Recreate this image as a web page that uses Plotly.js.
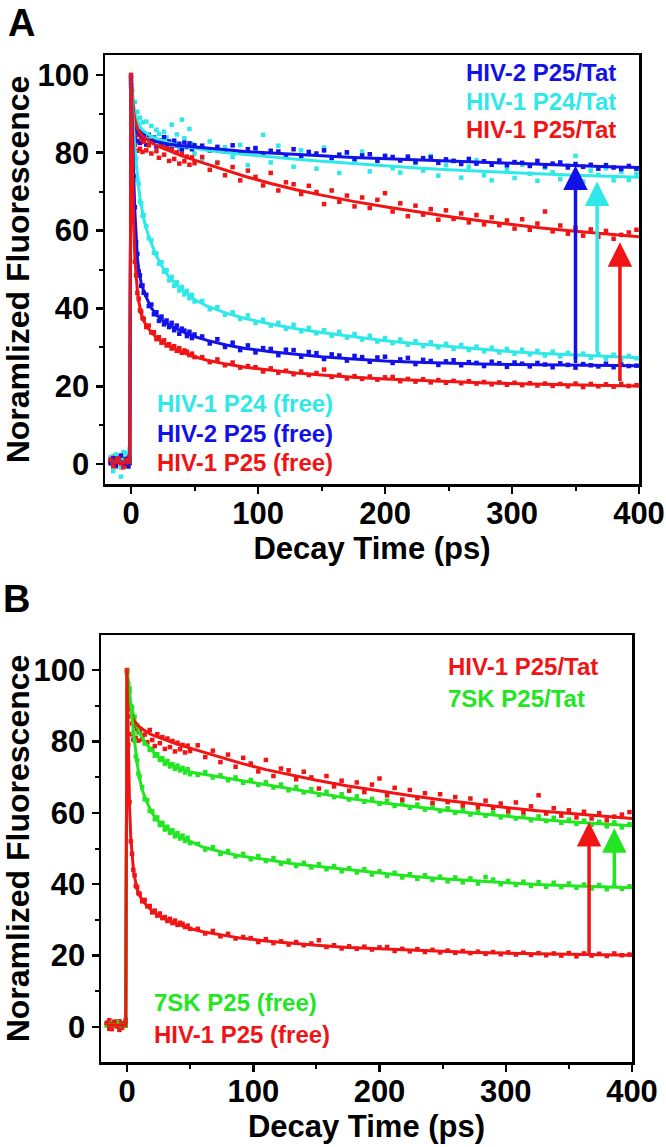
<!DOCTYPE html>
<html>
<head>
<meta charset="utf-8">
<script src="https://cdn.plot.ly/plotly-3.0.1.min.js"></script>
<style>html,body{margin:0;padding:0;background:#fff;}#chart{width:666px;height:1147px;}</style>
</head>
<body>
<div id="chart"></div>
<script>
// ---------- DATA ----------
const time = [-16,-14,-12,-10,-8,-6,-4,-2,-1,
  0,1,2,3,4,5,6,7,8,9,10,
  12,14,16,18,20,22,24,26,28,30,32,34,36,38,40,42,44,46,48,50,
  56,62,68,74,80,86,92,98,104,110,116,122,128,134,140,146,152,158,164,170,176,182,188,194,200,
  206,212,218,224,230,236,242,248,254,260,266,272,278,284,290,296,302,308,314,320,326,332,338,344,350,
  356,362,368,374,380,386,392,398];

const fitTime = [-16,-1,0,1,2,3,4,5,6,7,8,10,12,15,20,25,30,40,50,60,75,90,110,130,150,175,200,225,250,275,300,325,350,375,400];

// Panel A measured points
const hiv2P25Tat = [0.2,1.1,-0.4,1.6,0.7,-0.2,0.9,1.4,0.3,
  99,90,87,84,86.5,83,85.5,82.5,85,83,84.5,
  82.1,84.6,82.8,83.9,81.6,83.2,82.0,84.0,81.4,82.9,81.0,83.1,81.9,82.3,80.8,82.6,81.5,82.4,80.9,81.9,
  81.8,80.6,81.5,80.3,81.9,80.0,80.9,81.2,79.6,80.5,80.3,79.3,80.9,79.1,80.2,79.8,80.6,78.7,79.5,80.1,
  78.4,79.3,79.6,77.9,79.2,78.9,78.0,79.0,77.6,78.6,78.8,77.4,78.3,77.9,77.1,78.4,77.2,77.8,76.9,78.0,
  76.8,77.6,77.4,76.6,77.9,76.5,77.2,77.5,76.2,77.1,76.4,76.9,75.9,76.8,76.2,75.8,76.6,75.9];
const hiv1P24Tat = [1.5,-1.8,2.2,0.6,-0.9,3.1,1.0,2.4,4.0,
  97,96,91,93,88,90.5,86,89,85.5,87.8,84.2,
  88.0,83.6,86.9,82.8,85.9,84.8,82.1,85.4,83.9,81.3,87.2,82.6,84.7,80.9,88.5,83.7,81.4,86.1,82.3,79.8,
  78.3,82.9,77.6,81.4,78.9,82.0,76.8,80.7,84.6,77.5,81.8,78.9,76.4,80.6,79.7,75.9,81.3,78.1,74.8,79.9,
  77.6,80.3,75.2,78.4,79.1,76.0,74.9,78.7,77.3,75.4,79.2,74.1,76.8,77.9,73.6,76.4,78.1,74.2,72.9,77.6,
  75.8,73.5,76.9,74.6,72.8,76.1,75.0,73.2,76.7,79.2,72.6,75.4,74.3,76.0,72.9,75.1,73.0,74.6];
const hiv1P25Tat = [0.8,1.9,-0.6,1.2,0.3,1.6,-0.2,0.9,1.5,
  100,91,87,82,85,80.5,84.5,81,83.5,80.2,82.8,
  80.6,81.9,79.8,83.2,80.4,78.7,82.0,79.5,81.2,77.9,80.8,78.4,80.1,77.2,79.6,77.8,79.0,76.9,78.8,77.3,
  78.9,75.6,77.4,74.2,76.3,72.9,75.4,73.8,71.6,74.8,70.3,72.4,71.9,69.4,71.5,69.9,66.8,70.3,67.4,69.0,
  66.2,68.5,65.8,67.9,69.6,64.9,67.0,63.7,66.4,64.1,65.5,62.8,65.2,63.0,64.4,62.1,64.0,61.6,63.4,61.4,
  62.6,60.5,62.9,60.2,61.8,64.9,59.8,61.3,59.2,60.7,58.7,60.3,58.4,59.9,57.9,58.9,59.5,60.2];
const hiv1P24Free = [1.8,-1.0,2.5,0.4,-3.2,1.5,2.8,0.9,3.5,
  97,93,87,80,78.5,73,72,67.5,67,63.8,64.0,
  61.2,58.0,57.5,54.3,54.1,51.5,51.9,49.4,49.8,47.2,48.1,45.8,46.7,44.6,45.5,43.6,44.5,42.6,43.5,41.8,
  41.9,39.8,40.3,38.4,39.0,37.3,38.2,36.3,37.1,35.6,36.3,34.8,35.8,34.1,35.0,33.6,34.4,33.0,34.0,32.5,
  33.4,32.0,33.0,31.5,32.4,31.1,32.0,30.7,31.6,30.3,31.3,30.0,30.9,29.6,30.6,29.3,30.2,29.0,29.9,28.7,
  29.6,28.4,29.4,28.2,29.1,27.9,28.9,27.7,28.6,27.5,28.4,27.3,28.3,27.1,28.1,26.9,27.8,27.2];
const hiv2P25Free = [0.5,1.5,-0.3,0.9,2.2,0.1,1.3,-0.6,1.8,
  98,86,74,66,57,54,49.5,48.5,45.8,45.9,44.0,
  43.5,40.6,41.0,38.5,39.0,36.8,37.9,35.9,36.9,35.2,36.3,34.4,35.6,33.5,34.8,34.3,32.9,34.0,32.4,33.3,
  32.8,31.0,32.1,30.1,31.2,29.3,30.5,28.7,29.8,29.6,28.0,29.4,29.3,27.6,28.8,28.5,27.0,28.2,27.9,26.6,
  27.8,27.5,26.3,27.4,27.6,26.0,26.9,27.3,25.7,26.8,26.5,25.5,26.4,26.7,25.4,26.2,26.0,25.2,26.3,25.9,
  25.0,26.1,25.8,25.1,26.0,25.6,24.9,25.9,25.5,24.8,25.7,25.4,25.1,25.8,24.9,25.6,25.2,25.3];
const hiv1P25Free = [1.2,-0.5,0.8,1.5,0.2,-0.8,1.0,0.5,2.0,
  99.5,79,63,52,48.5,44,42.5,39.5,39.2,37.5,37.3,
  35.2,35.6,33.8,33.9,32.1,32.6,31.2,31.8,30.5,30.8,29.7,30.3,29.1,29.8,28.6,29.2,28.9,28.0,28.4,27.5,
  27.5,26.2,26.9,25.4,26.1,24.8,25.2,24.9,23.8,24.6,23.5,24.0,23.1,23.8,22.9,23.4,24.3,22.4,22.9,22.0,
  22.6,21.9,22.5,21.7,22.3,22.4,21.3,21.9,21.2,21.8,21.0,21.6,20.9,21.4,20.8,21.3,20.7,21.1,20.5,21.0,
  20.4,20.9,20.3,20.8,20.2,20.7,20.1,20.6,20.0,20.7,19.8,20.6,20.0,20.5,19.9,20.6,20.1,20.3];

// Panel B measured points (HIV-1 P25 series shared with panel A)
const sk7P25Tat = [0.4,1.2,-0.3,0.8,1.5,0.1,0.9,0.6,1.3,
  99,95,93.8,89.9,89.6,86.8,86.9,84.3,84.6,82.5,82.9,
  81.6,79.4,79.5,77.6,77.9,76.0,76.4,74.8,75.3,73.7,74.5,73.0,73.6,72.3,73.2,71.9,72.6,71.3,72.2,70.8,
  70.6,71.4,69.9,70.5,69.1,69.9,68.4,69.2,67.8,68.6,67.1,67.9,66.3,67.2,65.7,66.6,65.0,65.9,64.4,65.2,
  63.7,64.6,63.1,63.9,62.5,63.4,61.9,62.9,61.4,62.3,60.9,61.8,60.5,61.3,60.0,61.0,59.5,60.4,59.2,60.1,
  58.7,59.6,58.4,59.3,57.9,59.0,57.7,58.6,57.2,58.1,56.9,57.8,56.6,57.5,56.2,57.3,55.9,56.8];
const sk7P25Free = [0.7,-0.2,1.1,0.5,1.4,-0.5,0.8,1.2,0.3,
  99.5,96.2,94.8,89.3,87.1,82.4,80.1,75.8,74.7,71.0,70.2,
  67.2,63.8,63.5,60.5,60.4,58.2,58.7,56.6,57.2,55.3,56.1,54.4,55.1,53.4,54.3,52.8,53.6,52.1,53.0,51.5,
  51.3,49.7,50.4,48.5,49.3,47.8,48.5,47.0,47.9,46.5,47.3,45.7,46.6,45.1,46.0,44.7,45.6,44.2,45.1,43.6,
  44.5,43.3,44.2,42.7,43.6,42.3,43.2,41.9,42.8,41.5,42.5,41.2,42.1,40.8,41.9,40.5,41.6,40.2,42.0,41.3,
  40.0,40.9,39.8,40.7,39.5,40.6,39.3,40.4,39.2,40.2,39.0,39.9,38.8,39.8,38.6,39.6,38.7,39.4];

// Fitted curves
const fitHiv2P25Tat = [0.5,0.5,100,92,88.5,86.8,85.8,85.2,84.8,84.5,84.2,83.8,83.5,83.2,82.8,82.5,82.2,81.8,81.5,81.2,80.7,80.3,79.9,79.5,79.2,78.8,78.5,78.1,77.8,77.5,77.2,76.9,76.7,76.4,76.2];
const fitHiv1P24Tat = [0.5,0.5,100,95,92,90.2,89,88.1,87.4,86.8,86.3,85.6,85.1,84.4,83.6,83,82.5,81.7,81.1,80.6,80,79.5,78.9,78.3,77.8,77.2,76.6,76.1,75.6,75.2,74.8,74.5,74.2,73.9,73.7];
const fitHiv1P25Tat = [0.5,0.5,100,94,90.5,88.5,87.2,86.3,85.6,85.1,84.7,84,83.5,82.8,81.8,81.1,80.4,79.2,78.1,77,75.4,73.9,72.1,70.5,69.1,67.5,66.1,64.8,63.6,62.5,61.5,60.6,59.8,59.1,58.4];
const fitHiv1P24Free = [0.5,0.5,100,92,86,81,77.3,74,71,68.5,66.3,63,60.5,57.5,53.5,50.5,48,44.8,42.3,40.6,38.8,37.4,36,34.8,33.8,32.7,31.7,30.9,30.2,29.5,28.9,28.4,28,27.6,27.3];
const fitHiv2P25Free = [0.5,0.5,100,85,75,65,58,53,50.2,48,46.5,44.5,42.8,40.6,38.3,36.9,35.8,34.1,32.8,31.8,30.6,29.7,28.9,28.2,27.6,27,26.5,26.2,25.9,25.7,25.6,25.5,25.4,25.3,25.3];
const fitHiv1P25Free = [0.5,0.5,100,80,62,53,48,44.5,42,40,38.7,36.8,35.6,34.3,32.5,31.3,30.3,28.8,27.6,26.7,25.7,24.9,24.1,23.4,22.9,22.3,21.9,21.5,21.2,20.9,20.7,20.5,20.4,20.2,20.1];
const fitSk7P25Tat = [0.5,0.5,100,96,93,90.7,89,87.5,86.2,85,84,82.4,81,79.4,77.3,75.6,74.3,72.6,71.4,70.8,69.9,69.0,67.8,66.6,65.4,64.1,62.9,61.8,60.8,59.9,59.0,58.2,57.5,56.9,56.4];
const fitSk7P25Free = [0.5,0.5,100,97,94,90,86.5,83,79.5,76.5,74,69.5,66.5,63.5,59.8,57.6,56,53.6,52,50.4,49,47.9,46.9,45.8,45,44,43,42.2,41.5,40.9,40.4,39.9,39.6,39.3,39];

// Arrows (time, from value, to value)
const arrowTimeA = [350, 367, 385];
const arrowFromA = [25.6, 28.3, 21.0];
const arrowToA = [76.7, 72.6, 57.0];
const arrowTimeB = [366, 386];
const arrowFromB = [20.2, 39.5];
const arrowToB = [57.4, 55.7];

const labelsATop = ['HIV-2 P25/Tat', 'HIV-1 P24/Tat', 'HIV-1 P25/Tat'];
const labelsABottom = ['HIV-1 P24 (free)', 'HIV-2 P25 (free)', 'HIV-1 P25 (free)'];
const labelsBTop = ['HIV-1 P25/Tat', '7SK P25/Tat'];
const labelsBBottom = ['7SK P25 (free)', 'HIV-1 P25 (free)'];

// ---------- STYLE ----------
const BLUE = '#1212E8', CYAN = '#2FE8E8', RED = '#F01414', GREEN = '#22E622';
const FONT = 'Arial, "Liberation Sans", sans-serif';

function pts(y, color, xa, ya) {
  return {x: time, y: y, type: 'scatter', mode: 'markers', xaxis: xa, yaxis: ya,
    marker: {symbol: 'square', size: 4.5, color: color, line: {width: 0}}, showlegend: false, hoverinfo: 'skip'};
}
function fit(y, color, xa, ya) {
  return {x: fitTime, y: y, type: 'scatter', mode: 'lines', xaxis: xa, yaxis: ya,
    line: {color: color, width: 3}, showlegend: false, hoverinfo: 'skip'};
}

const traces = [
  pts(hiv1P24Tat, CYAN, 'x', 'y'), pts(hiv2P25Tat, BLUE, 'x', 'y'), pts(hiv1P25Tat, RED, 'x', 'y'),
  pts(hiv1P24Free, CYAN, 'x', 'y'), pts(hiv2P25Free, BLUE, 'x', 'y'), pts(hiv1P25Free, RED, 'x', 'y'),
  fit(fitHiv1P24Tat, CYAN, 'x', 'y'), fit(fitHiv2P25Tat, BLUE, 'x', 'y'), fit(fitHiv1P25Tat, RED, 'x', 'y'),
  fit(fitHiv1P24Free, CYAN, 'x', 'y'), fit(fitHiv2P25Free, BLUE, 'x', 'y'), fit(fitHiv1P25Free, RED, 'x', 'y'),
  pts(sk7P25Tat, GREEN, 'x2', 'y2'), pts(hiv1P25Tat, RED, 'x2', 'y2'),
  pts(sk7P25Free, GREEN, 'x2', 'y2'), pts(hiv1P25Free, RED, 'x2', 'y2'),
  fit(fitSk7P25Tat, GREEN, 'x2', 'y2'), fit(fitHiv1P25Tat, RED, 'x2', 'y2'),
  fit(fitSk7P25Free, GREEN, 'x2', 'y2'), fit(fitHiv1P25Free, RED, 'x2', 'y2')
];

function xAxis(domain, anchor) {
  return {domain: domain, anchor: anchor, range: [-20.5, 400], showgrid: false, zeroline: false,
    showline: true, linecolor: '#000', linewidth: 2.5, mirror: true,
    ticks: 'outside', ticklen: 7, tickwidth: 2.5, tickcolor: '#000', dtick: 100, tick0: 0,
    ticklabelstandoff: -7,
    minor: {ticks: 'outside', ticklen: 4, tickwidth: 2, tickcolor: '#000', dtick: 50, showgrid: false},
    tickfont: {family: FONT, size: 31, color: '#000', weight: 'bold'},
    title: {text: 'Decay Time (ps)', font: {family: FONT, size: 31, color: '#000', weight: 'bold'}, standoff: 8}};
}
function yAxis(domain, anchor, range) {
  return {domain: domain, anchor: anchor, range: range, showgrid: false, zeroline: false,
    showline: true, linecolor: '#000', linewidth: 2.5, mirror: true,
    ticks: 'outside', ticklen: 7, tickwidth: 2.5, tickcolor: '#000', dtick: 20, tick0: 0,
    minor: {ticks: 'outside', ticklen: 4, tickwidth: 2, tickcolor: '#000', dtick: 10, showgrid: false},
    tickfont: {family: FONT, size: 31, color: '#000', weight: 'bold'},
    title: {text: 'Noramlized Fluorescence', font: {family: FONT, size: 32, color: '#000', weight: 'bold'}, standoff: 4}};
}

const annotations = [];
function label(text, x, y, color, xanchor, xref, yref) {
  annotations.push({text: text, x: x, y: y, xref: xref, yref: yref, xanchor: xanchor, yanchor: 'middle',
    showarrow: false, font: {family: FONT, size: 24, color: color, weight: 'bold'}});
}
const topColorsA = [BLUE, CYAN, RED];
const topYA = [100.6, 93.2, 86.0];
labelsATop.forEach((t, i) => label(t, 383.5, topYA[i], topColorsA[i], 'right', 'x', 'y'));
const botColorsA = [CYAN, BLUE, RED];
const botYA = [15.7, 8.0, 0.5];
labelsABottom.forEach((t, i) => label(t, 19, botYA[i], botColorsA[i], 'left', 'x', 'y'));
const topColorsB = [RED, GREEN];
const topYB = [101.1, 91.9];
labelsBTop.forEach((t, i) => label(t, 252.4, topYB[i], topColorsB[i], 'left', 'x2', 'y2'));
const botColorsB = [GREEN, RED];
const botYB = [7.0, -2.0];
labelsBBottom.forEach((t, i) => label(t, 19.8, botYB[i], botColorsB[i], 'left', 'x2', 'y2'));

function arrow(x, from, to, color, xref, yref) {
  annotations.push({x: x, y: to, ax: x, ay: from, xref: xref, yref: yref, axref: xref, ayref: yref,
    text: '', showarrow: true, arrowhead: 2, arrowsize: 1.4, arrowwidth: 3.5, arrowcolor: color, standoff: 0, startstandoff: 0});
}
arrowTimeA.forEach((t, i) => arrow(t, arrowFromA[i], arrowToA[i], [BLUE, CYAN, RED][i], 'x', 'y'));
arrowTimeB.forEach((t, i) => arrow(t, arrowFromB[i], arrowToB[i], [RED, GREEN][i], 'x2', 'y2'));

annotations.push({text: 'A', x: 6/666, y: 1, xref: 'paper', yref: 'paper', xanchor: 'left', yanchor: 'top',
  showarrow: false, font: {family: FONT, size: 38, color: '#000', weight: 'bold'}});
annotations.push({text: 'B', x: 1/666, y: 1 - 576/1147, xref: 'paper', yref: 'paper', xanchor: 'left', yanchor: 'top',
  showarrow: false, font: {family: FONT, size: 38, color: '#000', weight: 'bold'}});

const layout = {
  width: 666, height: 1147, margin: {l: 0, r: 0, t: 0, b: 0},
  paper_bgcolor: '#fff', plot_bgcolor: '#fff', showlegend: false,
  xaxis: xAxis([105/666, 639/666], 'y'),
  yaxis: yAxis([1 - 484/1147, 1 - 55/1147], 'x', [-5.1, 105.1]),
  xaxis2: Object.assign(xAxis([101/666, 632/666], 'y2'), {range: [-20.6, 400]}),
  yaxis2: yAxis([1 - 1062/1147, 1 - 635/1147], 'x2', [-9.8, 109.8]),
  annotations: annotations
};

Plotly.newPlot('chart', traces, layout, {displayModeBar: false, staticPlot: true});
</script>
</body>
</html>
